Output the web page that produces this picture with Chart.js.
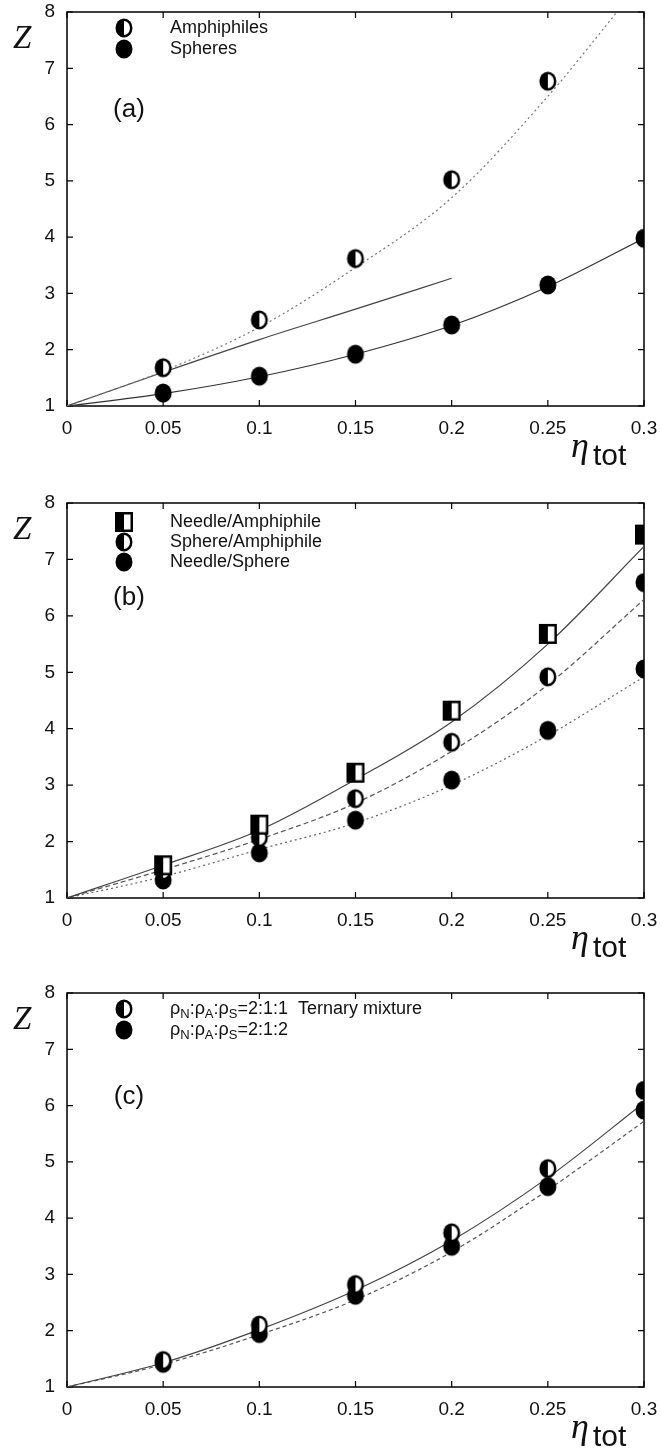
<!DOCTYPE html>
<html>
<head>
<meta charset="utf-8">
<script src="https://cdn.jsdelivr.net/npm/chart.js@4.4.1/dist/chart.umd.min.js"></script>
<style>
  html, body { margin: 0; padding: 0; background: #fff; }
  .panel { position: absolute; left: 0; width: 661px; }
</style>
</head>
<body>
<div class="panel" style="top:0px"><canvas id="panelA" width="661" height="490"></canvas></div>
<div class="panel" style="top:490px"><canvas id="panelB" width="661" height="490"></canvas></div>
<div class="panel" style="top:980px"><canvas id="panelC" width="661" height="474"></canvas></div>
<script>
// Shared axes
const etaTicks = [0, 0.05, 0.1, 0.15, 0.2, 0.25, 0.3];
const etaLabels = ['0', '0.05', '0.1', '0.15', '0.2', '0.25', '0.3'];
const zTicks = [1, 2, 3, 4, 5, 6, 7, 8];

// Simulation packing fractions and fit abscissae
const etaSim = [0.05, 0.1, 0.15, 0.2, 0.25, 0.3];
const etaFit = [0, 0.05, 0.1, 0.15, 0.2, 0.25, 0.3];

// Panel (a)
const amphiphilesZ = [1.68, 2.53, 3.62, 5.02, 6.77];
const spheresZ = [1.23, 1.53, 1.92, 2.44, 3.15, 3.98];
const amphiphilesFitEta = [0, 0.05, 0.1, 0.15, 0.2, 0.25, 0.286];
const amphiphilesFit = [1.0, 1.62, 2.4, 3.46, 4.7, 6.5, 8.0];
const amphiphilesLinEta = [0, 0.05, 0.1, 0.15, 0.2];
const amphiphilesLin = [1.0, 1.6, 2.18, 2.72, 3.27];
const spheresFit = [1.0, 1.22, 1.52, 1.92, 2.43, 3.12, 3.98];

// Panel (b)
const needleAmphZ = [1.58, 2.3, 3.22, 4.32, 5.68, 7.44];
const sphereAmphZ = [1.48, 2.07, 2.76, 3.76, 4.92, 6.59];
const needleSphereZ = [1.32, 1.8, 2.38, 3.09, 3.97, 5.06];
const needleAmphFit = [1.0, 1.58, 2.2, 3.1, 4.12, 5.5, 7.23];
const sphereAmphFit = [1.0, 1.5, 2.04, 2.68, 3.6, 4.78, 6.29];
const needleSphereFit = [1.0, 1.38, 1.86, 2.33, 3.0, 3.88, 4.92];

// Panel (c)
const ternary211Z = [1.47, 2.1, 2.82, 3.74, 4.88, 6.27];
const ternary212Z = [1.42, 1.95, 2.63, 3.5, 4.56, 5.92];
const ternary211Fit = [1.0, 1.43, 2.02, 2.72, 3.6, 4.72, 6.05];
const ternary212Fit = [1.0, 1.4, 1.93, 2.55, 3.4, 4.5, 5.72];

const SANS = '"Liberation Sans", Arial, sans-serif';
const SERIF = '"Liberation Serif", "Times New Roman", serif';
const INK = '#111';

// Marker glyphs (gnuplot style half-filled symbols)
function makeMarker(kind) {
    const c = document.createElement('canvas');
    c.width = 20; c.height = 22;
    const g = c.getContext('2d');
    g.fillStyle = '#000';
    if (kind === 'halfSquare') {
        g.fillRect(1, 1, 18, 20);
        g.fillStyle = '#fff';
        g.fillRect(10, 3.5, 6.5, 15);
        return c;
    }
    g.beginPath();
    g.ellipse(10, 11, 8.5, 9.5, 0, 0, Math.PI * 2);
    g.fill();
    if (kind === 'half') {
        g.fillStyle = '#fff';
        g.beginPath();
        g.ellipse(10, 11, 6, 7, 0, -Math.PI / 2, Math.PI / 2);
        g.closePath();
        g.fill();
    }
    return c;
}
const markers = {
    half: makeMarker('half'),
    filled: makeMarker('filled'),
    halfSquare: makeMarker('halfSquare')
};

const pts = (xs, ys) => ys.map((y, i) => ({ x: xs[i], y: y }));

function pointSet(label, xs, ys, marker) {
    return { label, data: pts(xs, ys), pointStyle: markers[marker], pointRadius: 10, showLine: false };
}
function curveSet(label, xs, ys, dash, color) {
    return {
        label, data: pts(xs, ys), showLine: true, pointRadius: 0,
        borderColor: color, borderWidth: 1.2, borderDash: dash,
        cubicInterpolationMode: 'monotone'
    };
}

function drawRich(ctx, parts, x, y) {
    ctx.textBaseline = 'middle';
    ctx.textAlign = 'left';
    parts.forEach(p => {
        ctx.font = (p.sub ? '13px ' : '18px ') + SANS;
        ctx.fillText(p.t, x, y + (p.sub ? 5 : 0));
        x += ctx.measureText(p.t).width;
    });
}

// Frame, inward ticks, legend, panel tag and axis titles
const panelDecor = {
    id: 'panelDecor',
    beforeDatasetsDraw(chart, args, opts) {
        const { ctx, chartArea: a, scales } = chart;
        ctx.save();
        ctx.strokeStyle = '#000';
        ctx.lineWidth = 1.5;
        ctx.strokeRect(a.left, a.top, a.right - a.left, a.bottom - a.top);
        ctx.lineWidth = 1.2;
        ctx.beginPath();
        etaTicks.forEach(v => {
            const px = scales.x.getPixelForValue(v);
            ctx.moveTo(px, a.bottom); ctx.lineTo(px, a.bottom - 6);
            ctx.moveTo(px, a.top); ctx.lineTo(px, a.top + 6);
        });
        zTicks.forEach(v => {
            const py = scales.y.getPixelForValue(v);
            ctx.moveTo(a.left, py); ctx.lineTo(a.left + 6, py);
            ctx.moveTo(a.right, py); ctx.lineTo(a.right - 6, py);
        });
        ctx.stroke();
        ctx.restore();
    },
    afterDraw(chart, args, opts) {
        const { ctx, chartArea: a } = chart;
        ctx.save();
        ctx.fillStyle = INK;
        // legend
        opts.legend.forEach((item, i) => {
            const y = a.top + opts.legendY + i * opts.legendStep;
            const m = markers[item.marker];
            ctx.drawImage(m, 124 - m.width / 2, y - m.height / 2);
            drawRich(ctx, item.parts, 170, y);
        });
        // panel tag
        ctx.font = '26px ' + SANS;
        ctx.textAlign = 'center';
        ctx.textBaseline = 'middle';
        ctx.fillText(opts.tag, 129, a.top + opts.tagY);
        // Z
        ctx.font = 'italic 33px ' + SERIF;
        ctx.textAlign = 'left';
        ctx.textBaseline = 'alphabetic';
        ctx.fillText('Z', 13, a.top + 36);
        // eta_tot
        ctx.font = 'italic 36px ' + SERIF;
        ctx.fillText('\u03b7', 571, a.bottom + 51);
        ctx.font = '30px ' + SANS;
        ctx.fillText('tot', 593, a.bottom + 59);
        ctx.restore();
    }
};
Chart.register(panelDecor);

// let the layout padding alone decide where the plot box sits
function noOverhang(s) {
    s.paddingTop = 0; s.paddingBottom = 0;
    s.paddingLeft = 0; s.paddingRight = 0;
}

function makePanel(id, top, plotH, datasets, decor) {
    const canvas = document.getElementById(id);
    const H = canvas.height;
    return new Chart(canvas, {
        type: 'scatter',
        data: { datasets },
        options: {
            responsive: false,
            animation: false,
            layout: { padding: { top: top, right: 17, left: 0, bottom: 0 } },
            plugins: {
                legend: { display: false },
                tooltip: { enabled: false },
                panelDecor: decor
            },
            scales: {
                x: {
                    type: 'linear', min: 0, max: 0.3,
                    grid: { display: false, drawTicks: false },
                    border: { display: false },
                    afterBuildTicks: s => { s.ticks = etaTicks.map(v => ({ value: v })); },
                    afterFit: s => { s.height = H - top - plotH; noOverhang(s); },
                    ticks: {
                        padding: 11, color: INK, autoSkip: false, maxRotation: 0,
                        font: { family: SANS, size: 19 },
                        callback: (v, i) => etaLabels[i]
                    }
                },
                y: {
                    type: 'linear', min: 1, max: 8,
                    grid: { display: false, drawTicks: false },
                    border: { display: false },
                    afterBuildTicks: s => { s.ticks = zTicks.map(v => ({ value: v })); },
                    afterFit: s => { s.width = 67; noOverhang(s); },
                    ticks: {
                        padding: 12, color: INK,
                        font: { family: SANS, size: 19 }
                    }
                }
            }
        }
    });
}

const txt = s => [{ t: s }];
const rhoRatio = tail => [
    { t: '\u03c1' }, { t: 'N', sub: true }, { t: ':\u03c1' }, { t: 'A', sub: true },
    { t: ':\u03c1' }, { t: 'S', sub: true }, { t: tail }
];

makePanel('panelA', 12, 394, [
    pointSet('Amphiphiles', etaSim, amphiphilesZ, 'half'),
    pointSet('Spheres', etaSim, spheresZ, 'filled'),
    curveSet('Amphiphiles fit', amphiphilesFitEta, amphiphilesFit, [2, 3], '#777'),
    curveSet('Amphiphiles linear', amphiphilesLinEta, amphiphilesLin, [], '#444'),
    curveSet('Spheres fit', etaFit, spheresFit, [], '#333')
], {
    tag: '(a)', tagY: 98, legendY: 16, legendStep: 21,
    legend: [
        { marker: 'half', parts: txt('Amphiphiles') },
        { marker: 'filled', parts: txt('Spheres') }
    ]
});

makePanel('panelB', 13, 395, [
    pointSet('Needle/Amphiphile', etaSim, needleAmphZ, 'halfSquare'),
    pointSet('Sphere/Amphiphile', etaSim, sphereAmphZ, 'half'),
    pointSet('Needle/Sphere', etaSim, needleSphereZ, 'filled'),
    curveSet('Needle/Amphiphile fit', etaFit, needleAmphFit, [], '#444'),
    curveSet('Sphere/Amphiphile fit', etaFit, sphereAmphFit, [5, 3], '#555'),
    curveSet('Needle/Sphere fit', etaFit, needleSphereFit, [2, 3], '#666')
], {
    tag: '(b)', tagY: 95, legendY: 19, legendStep: 20,
    legend: [
        { marker: 'halfSquare', parts: txt('Needle/Amphiphile') },
        { marker: 'half', parts: txt('Sphere/Amphiphile') },
        { marker: 'filled', parts: txt('Needle/Sphere') }
    ]
});

makePanel('panelC', 13, 394, [
    pointSet('2:1:1', etaSim, ternary211Z, 'half'),
    pointSet('2:1:2', etaSim, ternary212Z, 'filled'),
    curveSet('2:1:1 fit', etaFit, ternary211Fit, [], '#444'),
    curveSet('2:1:2 fit', etaFit, ternary212Fit, [4, 3], '#555')
], {
    tag: '(c)', tagY: 104, legendY: 16, legendStep: 21,
    legend: [
        { marker: 'half', parts: rhoRatio('=2:1:1  Ternary mixture') },
        { marker: 'filled', parts: rhoRatio('=2:1:2') }
    ]
});
</script>
</body>
</html>
